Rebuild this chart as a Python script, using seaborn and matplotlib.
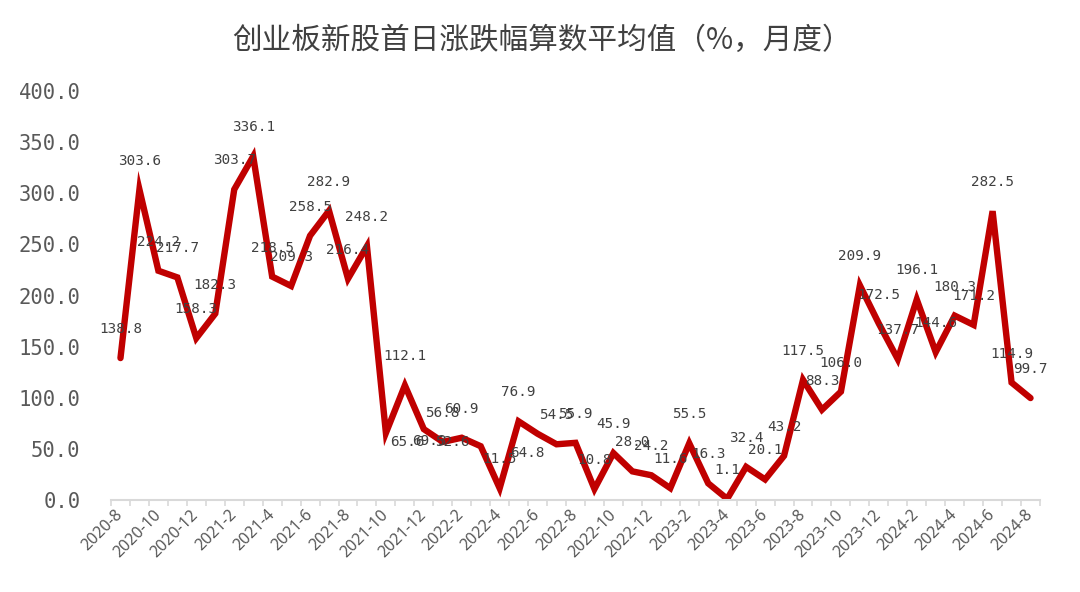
import matplotlib
matplotlib.use("Agg")
import matplotlib.pyplot as plt
import matplotlib.transforms as mtransforms
import numpy as np
import pandas as pd
import seaborn as sns

# Monthly categories, 2020-8 .. 2024-8
months = [
    "2020-8", "2020-9", "2020-10", "2020-11", "2020-12",
    "2021-1", "2021-2", "2021-3", "2021-4", "2021-5", "2021-6",
    "2021-7", "2021-8", "2021-9", "2021-10", "2021-11", "2021-12",
    "2022-1", "2022-2", "2022-3", "2022-4", "2022-5", "2022-6",
    "2022-7", "2022-8", "2022-9", "2022-10", "2022-11", "2022-12",
    "2023-1", "2023-2", "2023-3", "2023-4", "2023-5", "2023-6",
    "2023-7", "2023-8", "2023-9", "2023-10", "2023-11", "2023-12",
    "2024-1", "2024-2", "2024-3", "2024-4", "2024-5", "2024-6",
    "2024-7", "2024-8",
]

# average first-day return (%)
avg_return = [
    138.8, 303.6, 224.2, 217.7, 158.3,
    182.3, 303.7, 336.1, 218.5, 209.3, 258.5,
    282.9, 216.4, 248.2, 65.6, 112.1, 69.3,
    56.8, 60.9, 52.6, 11.5, 76.9, 64.8,
    54.5, 55.9, 10.8, 45.9, 28.0, 24.2,
    11.6, 55.5, 16.3, 1.1, 32.4, 20.1,
    43.2, 117.5, 88.3, 106.0, 209.9, 172.5,
    137.7, 196.1, 144.6, 180.3, 171.2, 282.5,
    114.9, 99.7,
]

ytick_values = [0, 50, 100, 150, 200, 250, 300, 350, 400]

title = "创业板新股首日涨跌幅算数平均值（%，月度）"

# label placement (pixels from the point); most sit above the point
default_nudge = (0, 29)
label_nudge = {
    14: (21, -9),
    16: (6, -12),
    19: (-28, 4),
    22: (-10, -19),
}

df = pd.DataFrame({"month": months, "value": avg_return})
df["pos"] = np.arange(len(df))

sns.set_theme(style="white")
plt.rcParams["font.family"] = ["Noto Sans CJK SC", "DejaVu Sans"]

fig = plt.figure(figsize=(10.8, 5.92), dpi=100)
ax = fig.add_axes([111 / 1080, 92 / 592, 929 / 1080, 409 / 592])

sns.lineplot(
    data=df, x="pos", y="value", ax=ax,
    color="#C00000", linewidth=4.6, solid_joinstyle="miter",
)

for i, row in df.iterrows():
    dx, dy = label_nudge.get(i, default_nudge)
    ax.annotate(
        f"{row['value']:.1f}",
        (row["pos"], row["value"]),
        xytext=(dx, dy),
        textcoords="offset pixels",
        ha="center",
        va="center",
        fontsize=10.3,
        family="DejaVu Sans Mono",
        color="#404040",
    )

ax.set_xlim(-0.5, len(df) - 0.5)
ax.set_ylim(0, 400)

# category labels every other month, boundary ticks below the axis
ax.set_xticks(df["pos"][::2])
ax.set_xticklabels(
    df["month"][::2], rotation=45, ha="right", va="center",
    rotation_mode="anchor", fontsize=11.5, family="Noto Sans",
    color="#595959",
)
shift = mtransforms.ScaledTranslation(-0.05, 0, fig.dpi_scale_trans)
for lbl in ax.get_xticklabels():
    lbl.set_transform(lbl.get_transform() + shift)
ax.set_xticks(np.arange(-0.5, len(df), 1), minor=True)
ax.tick_params(axis="x", which="major", length=0, pad=9)
ax.tick_params(axis="x", which="minor", length=4, width=1.2,
               color="#d9d9d9", direction="out", bottom=True)

ax.set_yticks(ytick_values)
ax.set_yticklabels([f"{v:.1f}" for v in ytick_values], fontsize=14.8,
                   family="DejaVu Sans Mono", color="#595959")
ax.tick_params(axis="y", length=0, pad=22)

ax.set_xlabel("")
ax.set_ylabel("")
sns.despine(ax=ax, left=True)
ax.spines["bottom"].set_color("#d9d9d9")
ax.spines["bottom"].set_linewidth(1.5)
ax.grid(False)

fig.text(0.502, 0.932, title, ha="center", va="center",
         fontsize=21.3, color="#404040")

fig.savefig("out.png", dpi=100)
plt.close(fig)
